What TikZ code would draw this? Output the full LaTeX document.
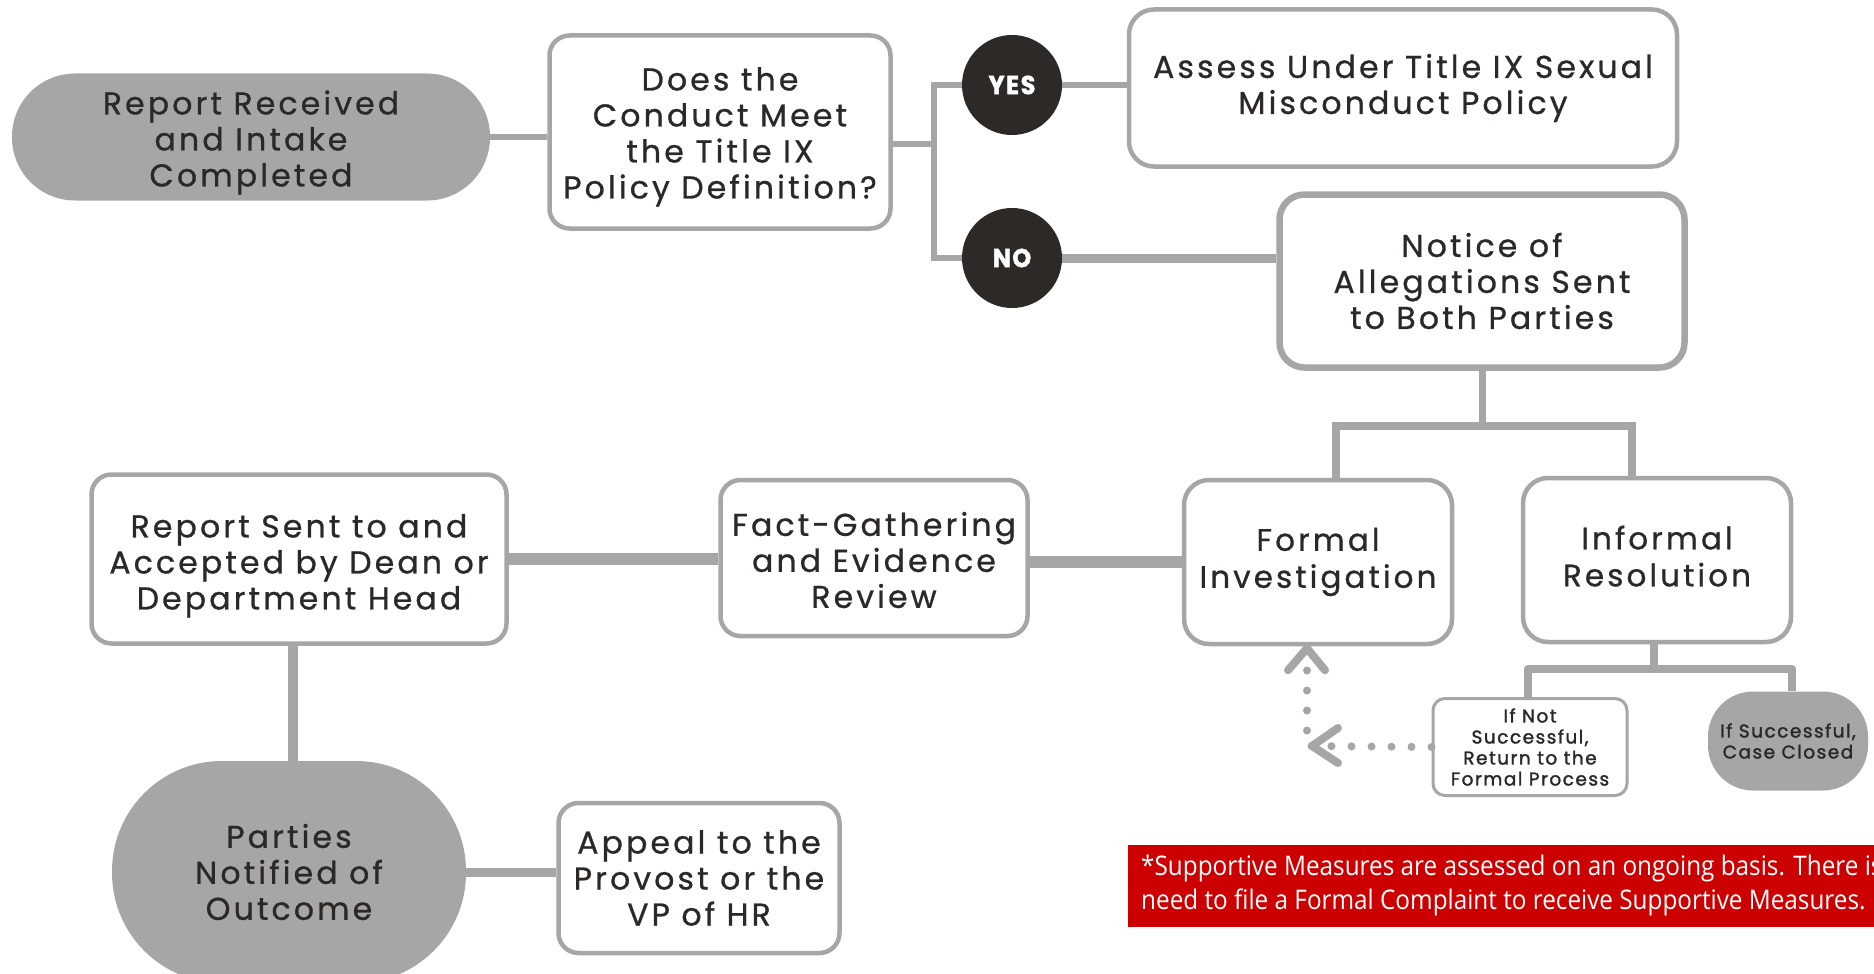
\documentclass[tikz,border=0pt]{standalone}
\usepackage{fontspec}
\newfontfamily\mfont[LetterSpace=10,FakeBold=0.8]{Poppins}
\newfontfamily\sfont[LetterSpace=8,FakeBold=1.6]{Poppins}
\newfontfamily\dfont[LetterSpace=6,FakeBold=1.5,FakeStretch=0.92]{Poppins}
\newfontfamily\nfont[FakeStretch=0.9]{Open Sans}
\usetikzlibrary{calc}
\definecolor{lgray}{HTML}{A6A6A6}
\definecolor{ink}{HTML}{2B2826}
\definecolor{disc}{HTML}{2D2926}
\definecolor{notered}{HTML}{CC0000}
\tikzset{
  box/.style={draw=lgray, line width=4.5pt, rounded corners=20pt, fill=white, align=center, inner sep=0pt, text=ink, font=\mfont\fontsize{31.5}{36}\selectfont},
  pill/.style={fill=lgray, align=center, inner sep=0pt, text=ink, font=\mfont\fontsize{31.5}{36}\selectfont},
  bigbox/.style={box, font=\mfont\fontsize{31}{37}\selectfont, rounded corners=25pt},
  smallbox/.style={box, line width=3pt, rounded corners=12pt, font=\sfont\fontsize{18.5}{21}\selectfont},
  disk/.style={circle, fill=disc, minimum size=100pt, inner sep=0pt, text=white, font=\dfont\bfseries\fontsize{26}{26}\selectfont},
  conn/.style={draw=lgray, line width=6pt},
  connthick/.style={draw=lgray, line width=12pt},
  dots/.style={draw=lgray, line width=8pt, line cap=round, dash pattern=on 0pt off 20pt},
  chev/.style={draw=lgray, line width=8pt, line cap=round, line join=round},
  down/.style={execute at begin node={\rule{0pt}{#1}}},
  up/.style={execute at end node={\rule[-#1]{0pt}{#1}}},
}
\begin{document}
\begin{tikzpicture}[x=1pt,y=-1pt]
\fill[white] (0,0) rectangle (1874,974);
\useasboundingbox (0,0) rectangle (1874,974);

\coordinate (br) at (934,144);
\coordinate (tl) at (1336,426);
\coordinate (tr) at (1632,426);
\coordinate (bl) at (1528,669);
\coordinate (bri) at (1792,669);
\coordinate (corner) at (1307,746);

% nodes
\node[pill, down=107pt, minimum width=478, minimum height=127, rounded corners=63pt] (rr) at (251,137) {Report Received\\and Intake\\Completed};
\node[box, down=141pt, minimum width=341, minimum height=193] (does) at (720,132) {Does the\\Conduct Meet\\the Title IX\\Policy Definition?};
\node[disk] (yes) at (1012,85) {YES};
\node[disk] (no) at (1012,258) {NO};
\node[box, minimum width=548, minimum height=157, rounded corners=25pt] (assess) at (1403,88) {Assess Under Title IX Sexual\\Misconduct Policy};
\node[box, line width=6.5pt, minimum width=405, minimum height=173, rounded corners=25pt] (notice) at (1482,281) {Notice of\\Allegations Sent\\to Both Parties};
\node[bigbox, up=8pt, minimum width=268, minimum height=164] (formal) at (1318,562) {Formal\\Investigation};
\node[bigbox, up=8pt, minimum width=268, minimum height=164] (informal) at (1657,560) {Informal\\Resolution};
\node[box, down=100pt, minimum width=307, minimum height=156] (fact) at (874,558) {Fact-Gathering\\and Evidence\\Review};
\node[box, down=109pt, minimum width=415, minimum height=169] (rsent) at (299,559) {Report Sent to and\\Accepted by Dean or\\Department Head};
\node[pill, minimum width=354, minimum height=222, rounded corners=110pt] (parties) at (289,872) {Parties\\Notified of\\Outcome};
\node[box, minimum width=281, minimum height=150] (appeal) at (699,878) {Appeal to the\\Provost or the\\VP of HR};
\node[smallbox, minimum width=194, minimum height=97] (ifnot) at (1530,747) {If Not\\Successful,\\Return to the\\Formal Process};
\node[pill, minimum width=160, minimum height=99, rounded corners=45pt, font=\sfont\fontsize{18.5}{21}\selectfont] (succ) at (1788,741) {If Successful,\\Case Closed};

% connectors
\draw[conn] (rr.east) -- (rr.east -| does.west);
\draw[conn] (does.east |- br) -- (br);
\draw[conn] (yes.west) -| (br) |- (no.west);
\draw[conn] (yes.east) -- (yes.east -| assess.west);
\draw[draw=lgray, line width=9pt] (no.east) -- (no.east -| notice.west);
\draw[draw=lgray, line width=7pt] (notice.south) -- (notice.south |- tl);
\draw[draw=lgray, line width=8pt] (formal.north -| tl) -- (tl) -- (tr) -- (informal.north -| tr);
\draw[connthick] (fact.east |- formal.west) -- (formal.west);
\draw[connthick] (rsent.east) -- (rsent.east -| fact.west);
\draw[draw=lgray, line width=10pt] ($(parties.north)+(4,0)$) -- ($(parties.north |- rsent.south)+(4,0)$);
\draw[draw=lgray, line width=9pt] (parties.east) -- (parties.east -| appeal.west);
\draw[draw=lgray, line width=8pt, line cap=round] (informal.south -| 1654,0) -- (1654,669);
\draw[draw=lgray, line width=8pt, line join=round] (ifnot.north -| bl) -- (bl) -- (bri) -- (succ.north -| bri);

% dotted return path
\draw[dots] (ifnot.west) -- (corner) -- (corner |- formal.south);
\draw[chev] ($(corner)+(31,-18)$) -- ($(corner)+(5,0)$) -- ($(corner)+(31,17)$);
\draw[chev] ($(corner |- formal.south)+(-19,24)$) -- ($(corner |- formal.south)+(0,2)$) -- ($(corner |- formal.south)+(18,24)$);

% note
\fill[notered] (1128,845) rectangle (1890,927);
\node[anchor=west, align=left, inner sep=0pt, text=white, font=\nfont\fontsize{27}{34}\selectfont] (note) at (1141,885) {*Supportive Measures are assessed on an ongoing basis. There is\\need to file a Formal Complaint to receive Supportive Measures.};
\end{tikzpicture}
\end{document}
